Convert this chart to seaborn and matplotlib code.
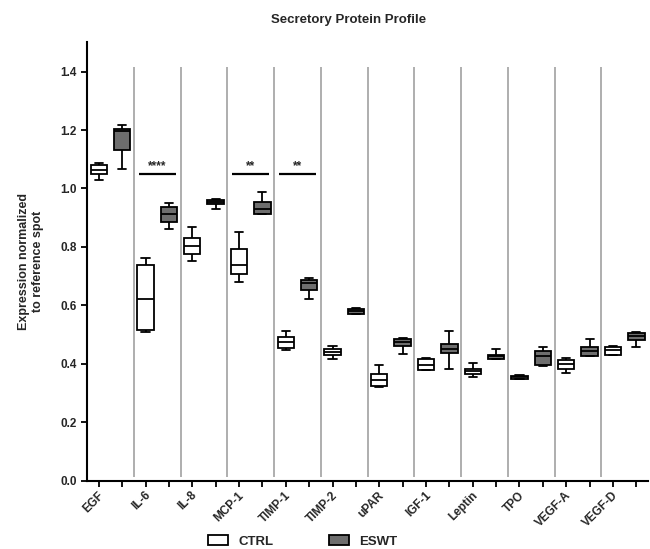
import numpy as np
import pandas as pd
import matplotlib
matplotlib.use("Agg")
import matplotlib.pyplot as plt
from matplotlib.patches import Patch
import seaborn as sns

categories = ["EGF", "IL-6", "IL-8", "MCP-1", "TIMP-1", "TIMP-2", "uPAR",
              "IGF-1", "Leptin", "TPO", "VEGF-A", "VEGF-D"]
groups = ["CTRL", "ESWT"]

# five-number summaries (min, q1, median, q3, max)
ctrl_min = [1.028, 0.509, 0.753, 0.679, 0.449, 0.417, 0.320, 0.378, 0.355, 0.348, 0.369, 0.430]
ctrl_q1  = [1.048, 0.517, 0.776, 0.708, 0.454, 0.432, 0.325, 0.380, 0.367, 0.349, 0.384, 0.432]
ctrl_med = [1.062, 0.623, 0.802, 0.740, 0.474, 0.442, 0.344, 0.397, 0.377, 0.354, 0.400, 0.446]
ctrl_q3  = [1.079, 0.737, 0.832, 0.793, 0.491, 0.451, 0.366, 0.418, 0.384, 0.360, 0.414, 0.458]
ctrl_max = [1.086, 0.761, 0.868, 0.850, 0.514, 0.460, 0.398, 0.420, 0.403, 0.362, 0.420, 0.460]

eswt_min = [1.065, 0.863, 0.930, 0.912, 0.623, 0.570, 0.434, 0.384, 0.416, 0.394, 0.428, 0.457]
eswt_q1  = [1.130, 0.885, 0.948, 0.914, 0.654, 0.572, 0.460, 0.437, 0.418, 0.397, 0.428, 0.483]
eswt_med = [1.196, 0.913, 0.955, 0.930, 0.677, 0.580, 0.474, 0.452, 0.426, 0.426, 0.443, 0.497]
eswt_q3  = [1.205, 0.937, 0.960, 0.954, 0.686, 0.589, 0.486, 0.469, 0.432, 0.443, 0.457, 0.506]
eswt_max = [1.217, 0.951, 0.965, 0.987, 0.694, 0.592, 0.490, 0.511, 0.451, 0.458, 0.485, 0.510]

sig_categories = ["IL-6", "MCP-1", "TIMP-1"]
sig_labels = ["****", "**", "**"]
sig_level = 1.048

yticks = [0.0, 0.2, 0.4, 0.6, 0.8, 1.0, 1.2, 1.4]

rows = []
for i, c in enumerate(categories):
    for g, arrs in (("CTRL", (ctrl_min, ctrl_q1, ctrl_med, ctrl_q3, ctrl_max)),
                    ("ESWT", (eswt_min, eswt_q1, eswt_med, eswt_q3, eswt_max))):
        for a in arrs:
            rows.append({"slot": f"{c}|{g}", "group": g, "value": a[i]})
df = pd.DataFrame(rows)
order = [f"{c}|{g}" for c in categories for g in groups]

sns.set_style("white")
plt.rcParams["font.family"] = ["Liberation Sans", "DejaVu Sans"]
plt.rcParams["font.weight"] = "bold"

fig = plt.figure(figsize=(6.5, 5.49), dpi=100)
ax = fig.add_axes([0.134, 0.124, 0.863, 0.799])

sns.boxplot(data=df, x="slot", y="value", hue="group", order=order,
            hue_order=groups, palette={"CTRL": "white", "ESWT": "#6e6e6e"},
            dodge=False, width=0.7, whis=(0, 100), linecolor="black",
            linewidth=1.3, legend=False, ax=ax)

n = len(order)
seps = [2 * k + 1.5 for k in range(len(categories) - 1)]
ax.vlines(seps, 0.012, 1.415, color="#a8a8a8", lw=1.3, zorder=0)

for c, s in zip(sig_categories, sig_labels):
    k = categories.index(c)
    ax.hlines(sig_level, 2 * k - 0.3, 2 * k + 1.3, color="black", lw=1.6)
    ax.text(2 * k + 0.5, sig_level + 0.008, s, ha="center", va="bottom",
            fontsize=8.5, fontweight="bold")

ax.set_xlim(-0.5, n - 0.5)
ax.set_ylim(0, 1.5)
ax.set_yticks(yticks, [f"{v:.1f}" for v in yticks])
ax.set_xticks(range(n), [""] * n)
ax.set_xticks([2 * k - 0.05 for k in range(len(categories))], categories, minor=True)
ax.tick_params(axis="x", which="minor", length=0, pad=6)
for lbl in ax.get_xticklabels(minor=True):
    lbl.set_rotation(45)
    lbl.set_ha("right")
    lbl.set_va("top")
    lbl.set_rotation_mode("anchor")
    lbl.set_fontsize(8.5)
    lbl.set_fontweight("bold")
ax.tick_params(axis="both", which="major", direction="out", length=4,
               width=1.3, color="black", labelsize=8.5)
ax.tick_params(axis="x", which="major", bottom=True)
ax.tick_params(axis="y", left=True)
for sp in ("top", "right"):
    ax.spines[sp].set_visible(False)
for sp in ("left", "bottom"):
    ax.spines[sp].set_linewidth(1.5)
    ax.spines[sp].set_color("black")
ax.set_xlabel("")
ax.set_ylabel("Expression normalized\nto reference spot", fontsize=9,
              fontweight="bold", labelpad=12, multialignment="center")

fig.text(0.537, 0.963, "Secretory Protein Profile", ha="center", va="center",
         fontsize=9.5, fontweight="bold")

handles = [Patch(facecolor="white", edgecolor="black", lw=1.3, label="CTRL"),
           Patch(facecolor="#6e6e6e", edgecolor="black", lw=1.3, label="ESWT")]
fig.legend(handles=handles, loc="center", bbox_to_anchor=(0.466, 0.014),
           ncol=2, frameon=False, columnspacing=4.2,
           handlelength=1.5, handleheight=0.8, handletextpad=0.8,
           prop={"weight": "bold", "size": 9.5})

fig.savefig("out.png", dpi=100)
